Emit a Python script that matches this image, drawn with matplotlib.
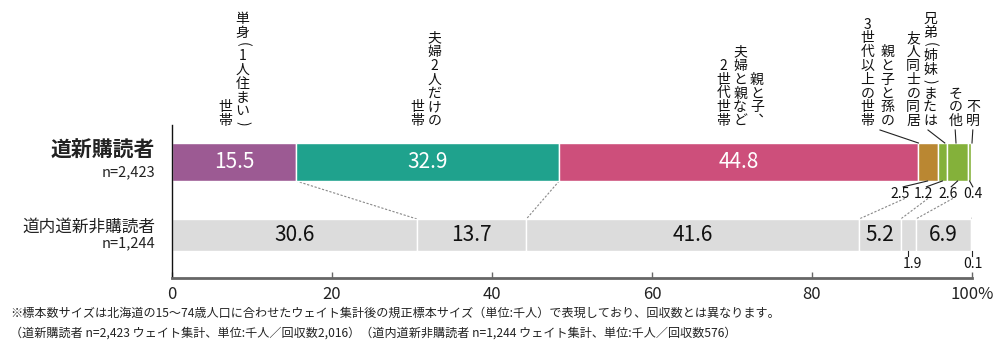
import numpy as np
import matplotlib
matplotlib.use("Agg")
import matplotlib.pyplot as plt

plt.rcParams["font.family"] = ["Noto Sans CJK JP", "DejaVu Sans"]

# data (percent)
groups = ["道新購読者", "道内道新非購読者"]
group_n = ["n=2,423", "n=1,244"]
categories = [
    "単身(1人住まい)世帯",
    "夫婦2人だけの世帯",
    "親と子、夫婦と親など2世代世帯",
    "親と子と孫の3世代以上の世帯",
    "兄弟(姉妹)または友人同士の同居",
    "その他",
    "不明",
]
# vertical columns for the headers (right to left)
cat_columns = [
    ["単身(1人住まい)", "世帯"],
    ["夫婦2人だけの", "世帯"],
    ["親と子︑", "夫婦と親など", "2世代世帯"],
    ["親と子と孫の", "3世代以上の世帯"],
    ["兄弟(姉妹)または", "友人同士の同居"],
    ["その他"],
    ["不明"],
]
subscribers = [15.5, 32.9, 44.8, 2.5, 1.2, 2.6, 0.4]
non_subscribers = [30.6, 13.7, 41.6, 5.2, 1.9, 6.9, 0.1]

colors = ["#9c5a93", "#1fa28d", "#cd4f7b", "#ba8732", "#84b13a", "#84b13a", "#84b13a"]
gray = "#dcdcdc"

fig = plt.figure(figsize=(10, 3.56), dpi=100)
ax = fig.add_axes([0.172, 0.219, 0.80, 0.430])

y_top, y_bot = 1.0, 0.0
h_top, h_bot = 0.52, 0.44

left_top = np.concatenate([[0], np.cumsum(subscribers)[:-1]])
left_bot = np.concatenate([[0], np.cumsum(non_subscribers)[:-1]])

ax.barh(y_top, subscribers, left=left_top, height=h_top, color=colors,
        edgecolor="white", linewidth=1.0, zorder=2)
ax.barh(y_bot, non_subscribers, left=left_bot, height=h_bot, color=gray,
        edgecolor="white", linewidth=1.0, zorder=2)

# big labels inside bars
for i in range(3):
    ax.text(left_top[i] + subscribers[i] / 2, y_top, f"{subscribers[i]}",
            ha="center", va="center", color="white", fontsize=15, zorder=3)
for i in [0, 1, 2, 3, 5]:
    ax.text(left_bot[i] + non_subscribers[i] / 2, y_bot, f"{non_subscribers[i]}",
            ha="center", va="center", color="#111111", fontsize=15, zorder=3)

# small labels under the top bar
small_x = [91.0, 93.9, 97.0, 100.1]
for k, i in enumerate(range(3, 7)):
    cx = left_top[i] + subscribers[i] / 2
    ax.plot([cx, small_x[k] + 0.4 * (k < 3)], [y_top - h_top / 2, 0.66],
            color="#222222", lw=0.8, clip_on=False, zorder=3)
    ax.text(small_x[k], 0.56, f"{subscribers[i]}", ha="center", va="center",
            fontsize=10, color="#111111")

# small labels under the bottom bar
for i, lx in [(4, 92.5), (6, 100.1)]:
    cx = left_bot[i] + non_subscribers[i] / 2
    ax.plot([cx, cx], [y_bot - h_bot / 2, -0.29], color="#222222", lw=0.8,
            clip_on=False)
    ax.text(lx, -0.39, f"{non_subscribers[i]}", ha="center", va="center",
            fontsize=10, color="#111111")

# dashed connectors
cum_top = np.cumsum(subscribers)
cum_bot = np.cumsum(non_subscribers)
for i in range(2):
    ax.plot([cum_top[i], cum_bot[i]], [y_top - h_top / 2, y_bot + h_bot / 2],
            ls=(0, (2, 1.5)), color="#888888", lw=0.8, zorder=1)
for k, i in enumerate([2, 3, 4, 6]):
    ax.plot([small_x[k] + 0.6, cum_bot[i]], [0.50, y_bot + h_bot / 2],
            ls=(0, (2, 1.5)), color="#888888", lw=0.8, zorder=1)

# vertical headers above the top bar (one glyph at a time, parens rotated)
full_pitch, paren_pitch = 9.9, 7.0   # points
col_step = [2.1, 2.1, 2.1, 2.5, 2.1, 0, 0]
header_offset = [0, -0.2, 0.2, -6.3, -2.6, -0.3, 0.4]
y_base = 1.562
for i, cols in enumerate(cat_columns):
    cx = left_top[i] + subscribers[i] / 2 + header_offset[i]
    n = len(cols)
    for j, col in enumerate(cols):
        x = cx + (n - 1) / 2 * col_step[i] - j * col_step[i]
        off = 0.0
        for ch in reversed(col):
            is_paren = ch in "()"
            p = paren_pitch if is_paren else full_pitch
            ax.annotate(ch, xy=(x, y_base), xytext=(0, off + (p - full_pitch) / 2),
                        textcoords="offset points", ha="center", va="center",
                        rotation=-90 if is_paren else 0, rotation_mode="anchor",
                        fontsize=10, color="#111111", annotation_clip=False)
            off += p

# header leader lines
for i, (x0, x1) in [(3, (88.5, 93.3)), (4, (94.5, 96.6)), (5, (97.9, 98.0)), (6, (100.1, 100.0))]:
    ax.plot([x0, x1], [1.438, y_top + h_top / 2], color="#222222", lw=0.8,
            clip_on=False)

# row labels
ax.text(-2.1, 1.164, groups[0], ha="right", va="center", fontsize=15,
        fontweight="bold", color="#222222", clip_on=False)
ax.text(-2.1, 0.863, group_n[0], ha="right", va="center", fontsize=10.5,
        color="#222222", clip_on=False)
ax.text(-2.1, 0.11, groups[1], ha="right", va="center", fontsize=12,
        color="#222222", clip_on=False)
ax.text(-2.1, -0.11, group_n[1], ha="right", va="center", fontsize=10.5,
        color="#222222", clip_on=False)

ax.set_xlim(0, 100)
ax.set_ylim(-0.589, 1.507)
ax.set_yticks([])
ax.set_xticks([0, 20, 40, 60, 80, 100])
ax.set_xticklabels(["0", "20", "40", "60", "80", "100%"], fontsize=12, color="#222222")
ax.tick_params(axis="x", direction="in", length=4, width=1, color="#666666", pad=6)
for s in ["top", "right"]:
    ax.spines[s].set_visible(False)
ax.spines["bottom"].set_color("#666666")
ax.spines["bottom"].set_linewidth(2)
ax.spines["left"].set_color("#111111")
ax.spines["left"].set_linewidth(1)

fig.text(0.01, 0.121,
         "※標本数サイズは北海道の15～74歳人口に合わせたウェイト集計後の規正標本サイズ（単位:千人）で表現しており、回収数とは異なります。",
         fontsize=8.7, color="#222222", va="center")
fig.text(0.01, 0.065,
         "（道新購読者 n=2,423 ウェイト集計、単位:千人／回収数2,016）（道内道新非購読者 n=1,244 ウェイト集計、単位:千人／回収数576）",
         fontsize=8.7, color="#222222", va="center")

fig.savefig("out.png", dpi=100)
